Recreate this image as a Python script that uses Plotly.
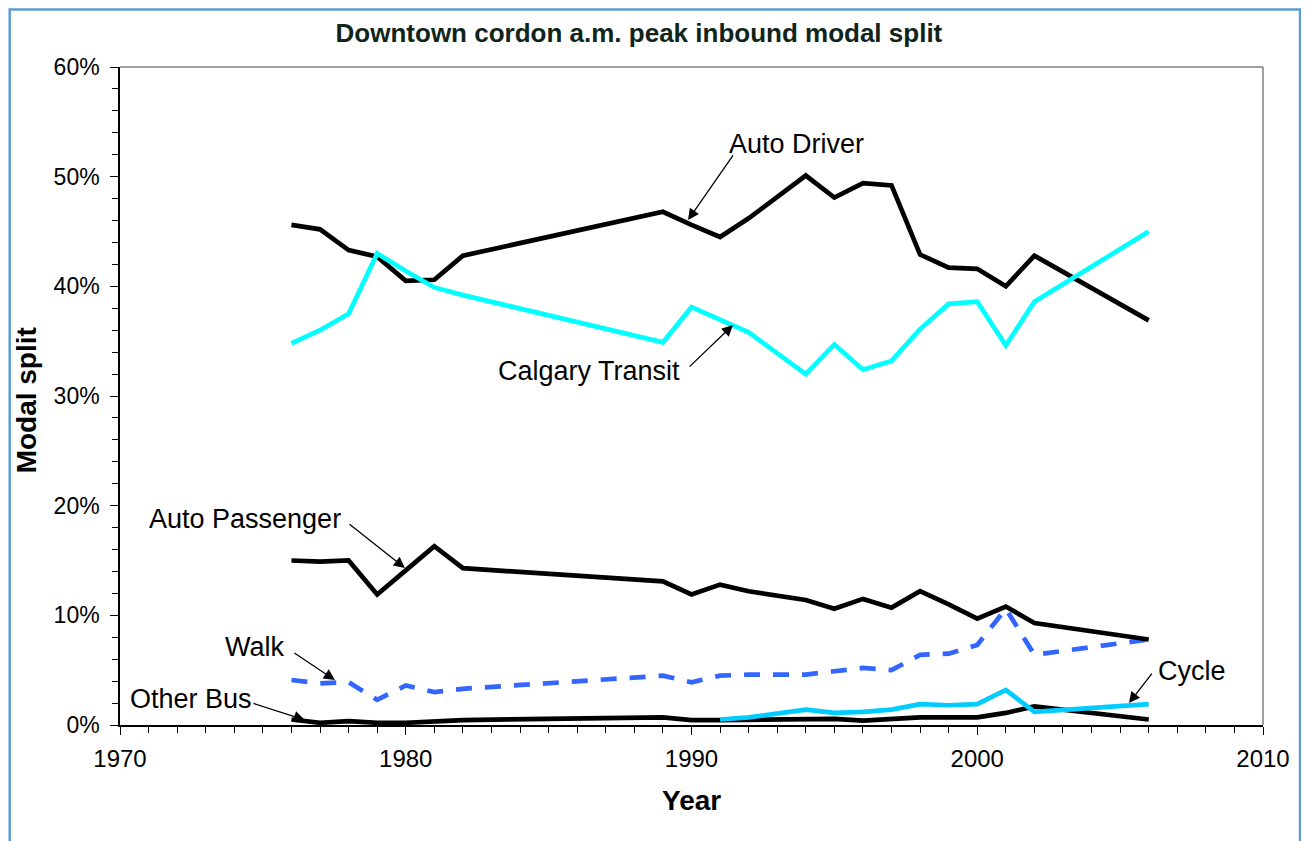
import plotly.graph_objects as go

# ---------------- data (percent of inbound a.m. peak trips) ----------------
years = [1976, 1977, 1978, 1979, 1980, 1981, 1982, 1989, 1990, 1991, 1992,
         1994, 1995, 1996, 1997, 1998, 1999, 2000, 2001, 2002, 2006]

auto_driver = [45.6, 45.2, 43.3, 42.7, 40.5, 40.6, 42.8, 46.8, 45.6, 44.5, 46.2,
               50.1, 48.1, 49.4, 49.2, 42.9, 41.7, 41.6, 40.0, 42.8, 36.9]
calgary_transit = [34.8, 36.0, 37.5, 43.0, 41.4, 39.9, 39.2, 34.9, 38.1, 37.0, 35.8,
                   32.0, 34.7, 32.4, 33.2, 36.1, 38.4, 38.6, 34.6, 38.6, 45.0]
auto_passenger = [15.0, 14.9, 15.0, 11.9, 14.1, 16.3, 14.3, 13.1, 11.9, 12.8, 12.2,
                  11.4, 10.6, 11.5, 10.7, 12.2, 11.0, 9.7, 10.8, 9.3, 7.8]
walk = [4.1, 3.8, 3.9, 2.3, 3.6, 3.0, 3.3, 4.5, 3.9, 4.5, 4.6,
        4.6, 4.9, 5.2, 5.0, 6.4, 6.5, 7.3, 10.6, 6.4, 7.8]
other_bus = [0.5, 0.2, 0.35, 0.2, 0.2, 0.3, 0.45, 0.7, 0.45, 0.45, 0.5,
             0.6, 0.55, 0.4, 0.55, 0.7, 0.7, 0.7, 1.1, 1.7, 0.5]

cycle_years = [1991, 1992, 1994, 1995, 1996, 1997, 1998, 1999, 2000, 2001, 2002, 2006]
cycle = [0.5, 0.7, 1.4, 1.1, 1.2, 1.4, 1.9, 1.8, 1.9, 3.2, 1.2, 1.9]

x_ticks = [1970, 1980, 1990, 2000, 2010]
y_ticks = [0, 10, 20, 30, 40, 50, 60]

FONT = "Liberation Sans, Arial, sans-serif"

fig = go.Figure()

def add_line(x, y, name, color, width=4.7, dash=None):
    fig.add_trace(go.Scatter(
        x=x, y=y, name=name, mode="lines",
        line=dict(color=color, width=width, dash=dash),
        hoverinfo="x+y+name", showlegend=False))

add_line(years, other_bus, "Other Bus", "#000000")
add_line(years, walk, "Walk", "#3366FF", dash="16px,13px")
add_line(years, auto_passenger, "Auto Passenger", "#000000")
add_line(years, auto_driver, "Auto Driver", "#000000")
add_line(years, calgary_transit, "Calgary Transit", "#00FFFF")
add_line(cycle_years, cycle, "Cycle", "#00CCFF")

# ---------------- labels with arrows ----------------
labels = [
    # text, text x, text y, arrow tail x, tail y, head x, head y
    ("Auto Driver", 1993.67, 53.0, 1991.49, 52.07, 1989.88, 46.05),
    ("Calgary Transit", 1986.43, 32.3, 1989.88, 32.55, 1991.45, 36.47),
    ("Auto Passenger", 1974.37, 18.8, 1977.98, 18.42, 1979.97, 14.32),
    ("Walk", 1974.72, 7.15, 1976.05, 6.66, 1977.52, 4.10),
    ("Other Bus", 1972.48, 2.35, 1974.62, 2.01, 1976.47, 0.46),
    ("Cycle", 2007.50, 4.9, 2006.15, 4.83, 2005.31, 2.0),
]
annotations = []
for text, tx, ty, ax, ay, hx, hy in labels:
    annotations.append(dict(
        x=tx, y=ty, xref="x", yref="y", text=text, showarrow=False,
        font=dict(family=FONT, size=27, color="#000000"),
        xanchor="center", yanchor="middle"))
    annotations.append(dict(
        x=hx, y=hy, ax=ax, ay=ay, xref="x", yref="y", axref="x", ayref="y",
        text="", showarrow=True, arrowhead=2, arrowsize=1.7, arrowwidth=1.3,
        arrowcolor="#000000", standoff=0, startstandoff=0))

# axis titles
annotations.append(dict(
    x=0.5, y=-0.115, xref="paper", yref="paper", text="<b>Year</b>",
    showarrow=False, font=dict(family=FONT, size=28, color="#000000"),
    xanchor="center", yanchor="middle"))
annotations.append(dict(
    x=-0.081, y=0.494, xref="paper", yref="paper", text="<b>Modal split</b>",
    showarrow=False, textangle=-90, font=dict(family=FONT, size=28, color="#000000"),
    xanchor="center", yanchor="middle"))

shapes = [
    # grey top and right frame of plot area
    dict(type="line", xref="paper", yref="paper", x0=0, y0=1, x1=1, y1=1,
         line=dict(color="#808080", width=1.5)),
    dict(type="line", xref="paper", yref="paper", x0=1, y0=0, x1=1, y1=1,
         line=dict(color="#808080", width=1.5)),
    # light-blue outer border of the picture
    dict(type="rect", xref="paper", yref="paper", x0=-0.0965, y0=-0.2, x1=1.0324, y1=1.0875,
         line=dict(color="#5B9BD5", width=2.5), fillcolor="rgba(0,0,0,0)", layer="below"),
]

fig.update_layout(
    width=1309, height=841,
    margin=dict(l=112, r=54, t=59, b=124),
    paper_bgcolor="white", plot_bgcolor="white",
    font=dict(family=FONT, color="#000000"),
    title=dict(text="<b>Downtown cordon a.m. peak inbound modal split</b>",
               x=0.482, xref="container", xanchor="center",
               y=0.970, yref="container", yanchor="middle",
               font=dict(family=FONT, size=26, color="#10241a")),
    annotations=annotations, shapes=shapes,
    xaxis=dict(range=[1970, 2010], tickvals=x_ticks, ticktext=[str(v) for v in x_ticks],
               showgrid=False, zeroline=False, showline=True, linecolor="#000000", linewidth=1.5,
               ticks="outside", ticklen=8, tickwidth=1.2, tickcolor="#000000",
               tickfont=dict(family=FONT, size=24, color="#000000"), ticklabelstandoff=3,
               minor=dict(dtick=1, tick0=1970, ticks="outside", ticklen=6, tickwidth=1,
                          tickcolor="#000000", showgrid=False)),
    yaxis=dict(range=[0, 60], tickvals=y_ticks, ticktext=[f"{v}%" for v in y_ticks],
               showgrid=False, zeroline=False, showline=True, linecolor="#000000", linewidth=1.5,
               ticks="outside", ticklen=8, tickwidth=1.2, tickcolor="#000000",
               tickfont=dict(family=FONT, size=23, color="#000000"), ticklabelstandoff=6,
               minor=dict(dtick=2, tick0=0, ticks="outside", ticklen=6, tickwidth=1,
                          tickcolor="#000000", showgrid=False)),
)

fig.write_html("out.html")
